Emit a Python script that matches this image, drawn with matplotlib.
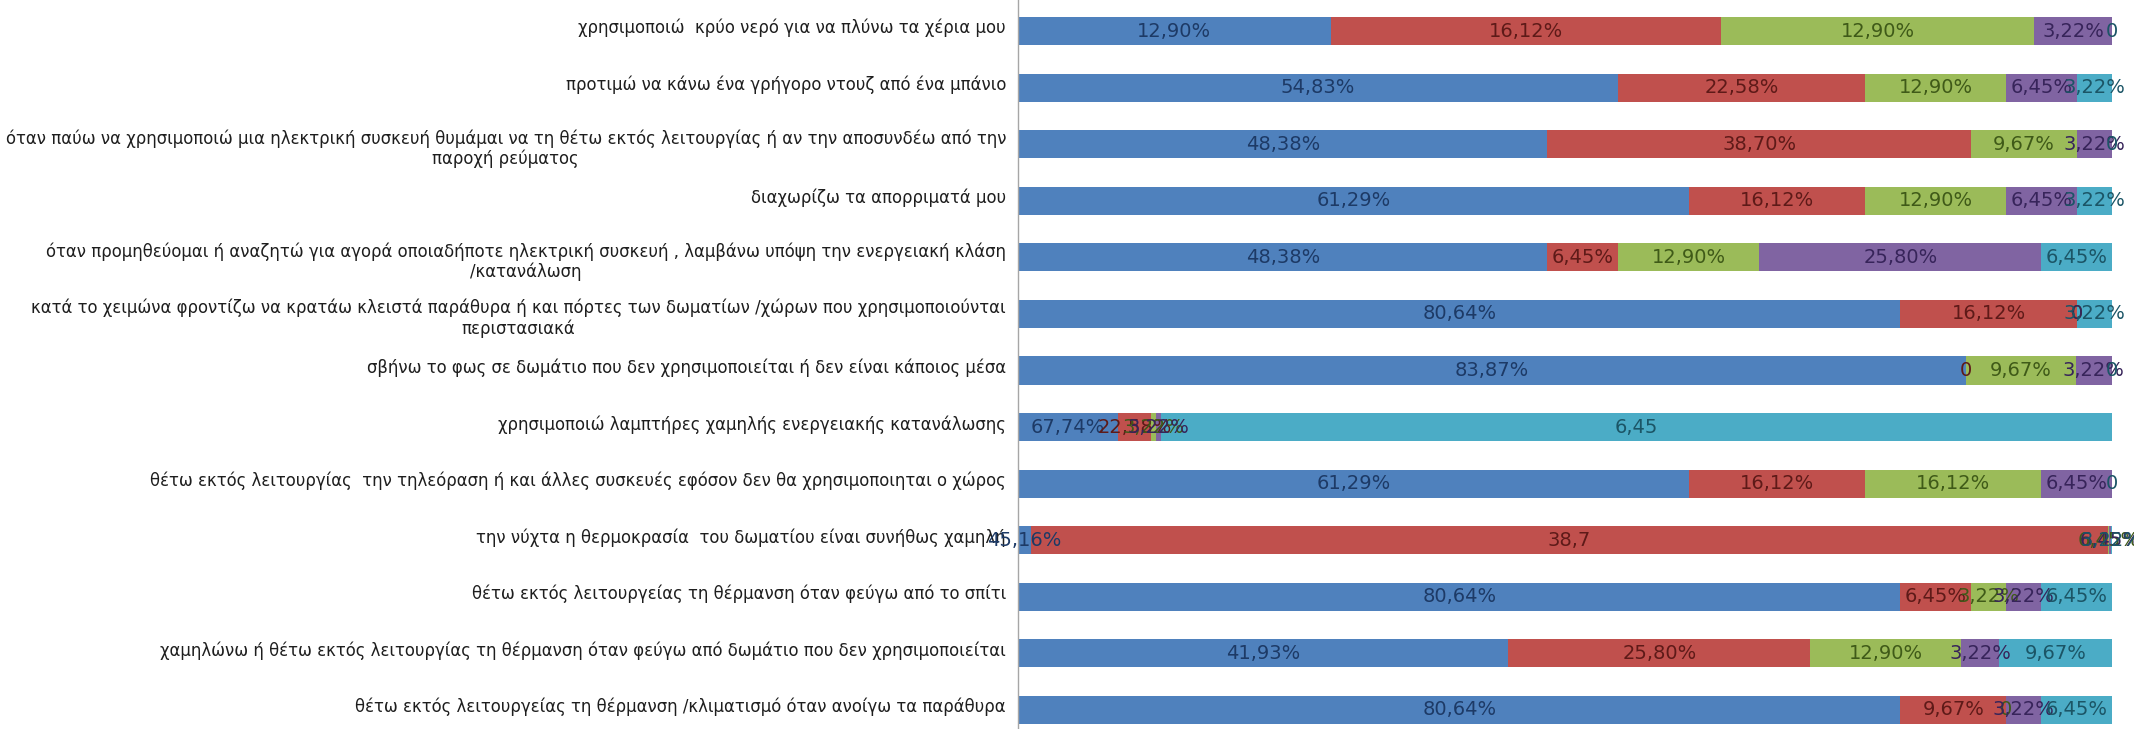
import matplotlib
matplotlib.use('Agg')
import matplotlib.pyplot as plt
import matplotlib.transforms as mtransforms
from matplotlib import font_manager
import numpy as np

# statements, top to bottom
categories = [
    'χρησιμοποιώ  κρύο νερό για να πλύνω τα χέρια μου',
    'προτιμώ να κάνω ένα γρήγορο ντουζ από ένα μπάνιο',
    'όταν παύω να χρησιμοποιώ μια ηλεκτρική συσκευή θυμάμαι να τη θέτω εκτός λειτουργίας ή αν την αποσυνδέω από την\nπαροχή ρεύματος',
    'διαχωρίζω τα απορριματά μου',
    'όταν προμηθεύομαι ή αναζητώ για αγορά οποιαδήποτε ηλεκτρική συσκευή , λαμβάνω υπόψη την ενεργειακή κλάση\n/κατανάλωση',
    'κατά το χειμώνα φροντίζω να κρατάω κλειστά παράθυρα ή και πόρτες των δωματίων /χώρων που χρησιμοποιούνται\nπεριστασιακά',
    'σβήνω το φως σε δωμάτιο που δεν χρησιμοποιείται ή δεν είναι κάποιος μέσα',
    'χρησιμοποιώ λαμπτήρες χαμηλής ενεργειακής κατανάλωσης',
    'θέτω εκτός λειτουργίας  την τηλεόραση ή και άλλες συσκευές εφόσον δεν θα χρησιμοποιηται ο χώρος',
    'την νύχτα η θερμοκρασία  του δωματίου είναι συνήθως χαμηλή',
    'θέτω εκτός λειτουργείας τη θέρμανση όταν φεύγω από το σπίτι',
    'χαμηλώνω ή θέτω εκτός λειτουργίας τη θέρμανση όταν φεύγω από δωμάτιο που δεν χρησιμοποιείται',
    'θέτω εκτός λειτουργείας τη θέρμανση /κλιματισμό όταν ανοίγω τα παράθυρα',
]

# raw cell values (two cells were typed as 645 and 3870 in the sheet)
blue = [12.90, 54.83, 48.38, 61.29, 48.38, 80.64, 83.87, 67.74, 61.29, 45.16, 80.64, 41.93, 80.64]
red = [16.12, 22.58, 38.70, 16.12, 6.45, 16.12, 0, 22.58, 16.12, 3870, 6.45, 25.80, 9.67]
green = [12.90, 12.90, 9.67, 12.90, 12.90, 0, 9.67, 3.22, 16.12, 6.45, 3.22, 12.90, 0]
purple = [3.22, 6.45, 3.22, 6.45, 25.80, 0, 3.22, 3.22, 6.45, 6.45, 3.22, 3.22, 3.22]
cyan = [0, 3.22, 0, 3.22, 6.45, 3.22, 0, 645, 0, 3.22, 6.45, 9.67, 6.45]

# labels that were formatted differently: (row, series) -> text
label_overrides = {(7, 4): '6,45', (9, 1): '38,7'}

series = [blue, red, green, purple, cyan]
colors = ['#4f81bd', '#c0504d', '#9bbb59', '#8064a2', '#4bacc6']
text_colors = ['#1d3a66', '#5e1a18', '#3f5a18', '#37245a', '#1b5566']

names = {f.name for f in font_manager.fontManager.ttflist}
if 'Liberation Sans Narrow' in names:
    cat_family, cat_size = ['Liberation Sans Narrow', 'DejaVu Sans'], 14
else:
    cat_family, cat_size = ['DejaVu Sans'], 11.9

fig = plt.figure(figsize=(21.34, 7.29), dpi=100)
ax = fig.add_axes([1018 / 2134, 0, (2112 - 1018) / 2134, 1])

vals = np.array(series, dtype=float)
totals = vals.sum(axis=0)
pct = vals / totals * 100
y = np.arange(len(categories))

left = np.zeros(len(categories))
for s in range(len(series)):
    ax.barh(y, pct[s], left=left, height=0.495, color=colors[s], edgecolor='none')
    for i in range(len(categories)):
        v = series[s][i]
        txt = label_overrides.get((i, s))
        if txt is None:
            txt = '0' if v == 0 else ('%.2f' % v).replace('.', ',') + '%'
        ax.text(left[i] + pct[s][i] / 2, y[i], txt, ha='center', va='center',
                fontsize=14, color=text_colors[s], clip_on=False, zorder=5)
    left += pct[s]

# category labels, right aligned against the axis
offset = mtransforms.ScaledTranslation(-12 / 100, 0, fig.dpi_scale_trans)
trans = mtransforms.blended_transform_factory(ax.transAxes, ax.transData) + offset
for i, c in enumerate(categories):
    dy = 0.08 if '\n' in c else -0.05
    ax.text(0, y[i] + dy, c, transform=trans, ha='right', va='center',
            multialignment='center', fontsize=cat_size, family=cat_family,
            color='#1e1e1e', linespacing=1.15)

ax.set_xlim(0, 100)
ax.set_ylim(12.336, -0.548)
ax.set_xticks([])
ax.set_yticks([])
for side in ['top', 'right', 'bottom']:
    ax.spines[side].set_visible(False)
ax.spines['left'].set_color('#a6a6a6')
ax.spines['left'].set_linewidth(1)

fig.savefig('out.png', dpi=100)
